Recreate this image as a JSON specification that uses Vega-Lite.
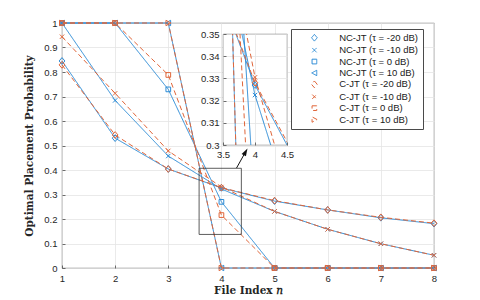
{
 "$schema": "https://vega.github.io/schema/vega-lite/v6.json",
 "background": "white",
 "padding": {"left": 24, "top": 17, "right": 4, "bottom": 4},
 "bounds": "flush",
 "align": "none",
 "spacing": -211,
 "resolve": {"scale": {"color": "independent", "shape": "independent", "strokeDash": "independent", "stroke": "independent"}},
 "config": {
  "font": "Liberation Sans",
  "view": {"stroke": "#4a4a4a", "strokeWidth": 0.8},
  "axis": {"domain": false, "grid": true, "gridColor": "#e4e4e4", "gridWidth": 0.8, "tickColor": "#4a4a4a", "tickSize": -3, "tickWidth": 0.8, "labelFont": "Liberation Sans", "labelFontSize": 9.5, "labelColor": "#262626", "labelFlush": false, "labelOverlap": false, "labelPadding": 8, "titleFont": "DejaVu Serif", "titleFontWeight": "bold", "titleFontSize": 10.5, "titleColor": "#262626"}
 },
 "datasets": {
  "d": [
   {"n":1,"p":0.845,"s":"NC-JT (τ = -20 dB)"},{"n":2,"p":0.53,"s":"NC-JT (τ = -20 dB)"},{"n":3,"p":0.404,"s":"NC-JT (τ = -20 dB)"},{"n":4,"p":0.327,"s":"NC-JT (τ = -20 dB)"},{"n":5,"p":0.273,"s":"NC-JT (τ = -20 dB)"},{"n":6,"p":0.237,"s":"NC-JT (τ = -20 dB)"},{"n":7,"p":0.205,"s":"NC-JT (τ = -20 dB)"},{"n":8,"p":0.181,"s":"NC-JT (τ = -20 dB)"},
   {"n":1,"p":1.0,"s":"NC-JT (τ = -10 dB)"},{"n":2,"p":0.684,"s":"NC-JT (τ = -10 dB)"},{"n":3,"p":0.457,"s":"NC-JT (τ = -10 dB)"},{"n":4,"p":0.3225,"s":"NC-JT (τ = -10 dB)"},{"n":5,"p":0.231,"s":"NC-JT (τ = -10 dB)"},{"n":6,"p":0.158,"s":"NC-JT (τ = -10 dB)"},{"n":7,"p":0.099,"s":"NC-JT (τ = -10 dB)"},{"n":8,"p":0.052,"s":"NC-JT (τ = -10 dB)"},
   {"n":1,"p":1.0,"s":"NC-JT (τ = 0 dB)"},{"n":2,"p":1.0,"s":"NC-JT (τ = 0 dB)"},{"n":3,"p":0.729,"s":"NC-JT (τ = 0 dB)"},{"n":4,"p":0.27,"s":"NC-JT (τ = 0 dB)"},{"n":5,"p":0,"s":"NC-JT (τ = 0 dB)"},{"n":6,"p":0,"s":"NC-JT (τ = 0 dB)"},{"n":7,"p":0,"s":"NC-JT (τ = 0 dB)"},{"n":8,"p":0,"s":"NC-JT (τ = 0 dB)"},
   {"n":1,"p":1.0,"s":"NC-JT (τ = 10 dB)"},{"n":2,"p":1.0,"s":"NC-JT (τ = 10 dB)"},{"n":3,"p":1.0,"s":"NC-JT (τ = 10 dB)"},{"n":4,"p":0,"s":"NC-JT (τ = 10 dB)"},{"n":5,"p":0,"s":"NC-JT (τ = 10 dB)"},{"n":6,"p":0,"s":"NC-JT (τ = 10 dB)"},{"n":7,"p":0,"s":"NC-JT (τ = 10 dB)"},{"n":8,"p":0,"s":"NC-JT (τ = 10 dB)"},
   {"n":1,"p":0.829,"s":"C-JT (τ = -20 dB)"},{"n":2,"p":0.543,"s":"C-JT (τ = -20 dB)"},{"n":3,"p":0.404,"s":"C-JT (τ = -20 dB)"},{"n":4,"p":0.328,"s":"C-JT (τ = -20 dB)"},{"n":5,"p":0.275,"s":"C-JT (τ = -20 dB)"},{"n":6,"p":0.237,"s":"C-JT (τ = -20 dB)"},{"n":7,"p":0.207,"s":"C-JT (τ = -20 dB)"},{"n":8,"p":0.183,"s":"C-JT (τ = -20 dB)"},
   {"n":1,"p":0.944,"s":"C-JT (τ = -10 dB)"},{"n":2,"p":0.713,"s":"C-JT (τ = -10 dB)"},{"n":3,"p":0.478,"s":"C-JT (τ = -10 dB)"},{"n":4,"p":0.3305,"s":"C-JT (τ = -10 dB)"},{"n":5,"p":0.231,"s":"C-JT (τ = -10 dB)"},{"n":6,"p":0.158,"s":"C-JT (τ = -10 dB)"},{"n":7,"p":0.099,"s":"C-JT (τ = -10 dB)"},{"n":8,"p":0.052,"s":"C-JT (τ = -10 dB)"},
   {"n":1,"p":1.0,"s":"C-JT (τ = 0 dB)"},{"n":2,"p":1.0,"s":"C-JT (τ = 0 dB)"},{"n":3,"p":0.788,"s":"C-JT (τ = 0 dB)"},{"n":4,"p":0.216,"s":"C-JT (τ = 0 dB)"},{"n":5,"p":0,"s":"C-JT (τ = 0 dB)"},{"n":6,"p":0,"s":"C-JT (τ = 0 dB)"},{"n":7,"p":0,"s":"C-JT (τ = 0 dB)"},{"n":8,"p":0,"s":"C-JT (τ = 0 dB)"},
   {"n":1,"p":1.0,"s":"C-JT (τ = 10 dB)"},{"n":2,"p":1.0,"s":"C-JT (τ = 10 dB)"},{"n":3,"p":1.0,"s":"C-JT (τ = 10 dB)"},{"n":4,"p":0,"s":"C-JT (τ = 10 dB)"},{"n":5,"p":0,"s":"C-JT (τ = 10 dB)"},{"n":6,"p":0,"s":"C-JT (τ = 10 dB)"},{"n":7,"p":0,"s":"C-JT (τ = 10 dB)"},{"n":8,"p":0,"s":"C-JT (τ = 10 dB)"}
  ],
  "box": [{"x1": 3.58, "x2": 4.375, "y1": 0.137, "y2": 0.407}],
  "arrow": [{"x1": 4.284, "y1": 0.408, "x2": 4.449, "y2": 0.472}]
 },
 "hconcat": [
  {
   "width": 372,
   "height": 245,
   "layer": [
    {
     "data": {"name": "d"},
     "mark": {"type": "line", "strokeWidth": 1},
     "encoding": {
      "x": {"field": "n", "type": "quantitative", "scale": {"domain": [1, 8], "nice": false}, "axis": {"values": [1,2,3,4,5,6,7,8], "format": "~g", "title": "File Index 𝑛", "titlePadding": 3}},
      "y": {"field": "p", "type": "quantitative", "scale": {"domain": [0, 1], "nice": false}, "axis": {"values": [0,0.1,0.2,0.3,0.4,0.5,0.6,0.7,0.8,0.9,1], "format": "~g", "title": "Optimal Placement Probability", "titlePadding": 9}},
      "color": {"field": "s", "type": "nominal", "sort": null,
       "scale": {"domain": ["NC-JT (τ = -20 dB)","NC-JT (τ = -10 dB)","NC-JT (τ = 0 dB)","NC-JT (τ = 10 dB)","C-JT (τ = -20 dB)","C-JT (τ = -10 dB)","C-JT (τ = 0 dB)","C-JT (τ = 10 dB)"],
                 "range": ["#2b8bd6","#2b8bd6","#2b8bd6","#2b8bd6","#e0663a","#e0663a","#e0663a","#e0663a"]},
       "legend": {"orient": "none", "legendX": 229, "legendY": 6, "title": null, "fillColor": "white", "strokeColor": "#4a4a4a", "padding": 4, "labelFont": "Liberation Sans", "labelFontSize": 9.5, "labelColor": "#1a1a1a", "symbolSize": 45, "symbolStrokeWidth": 1, "labelOffset": 20, "rowPadding": 0.4, "symbolOffset": 14.65,
        "encode": {"symbols": {"update": {"fill": {"value": "transparent"}, "strokeWidth": {"value": 1}}}}}},
      "strokeDash": {"field": "s", "type": "nominal", "sort": null,
       "scale": {"domain": ["NC-JT (τ = -20 dB)","NC-JT (τ = -10 dB)","NC-JT (τ = 0 dB)","NC-JT (τ = 10 dB)","C-JT (τ = -20 dB)","C-JT (τ = -10 dB)","C-JT (τ = 0 dB)","C-JT (τ = 10 dB)"],
                 "range": [[1,0],[1,0],[1,0],[1,0],[5,3],[5,3],[5,3],[5,3]]}}
     }
    },
    {
     "data": {"name": "d"},
     "mark": {"type": "point", "filled": false, "size": 45, "strokeWidth": 1, "opacity": 1},
     "encoding": {
      "x": {"field": "n", "type": "quantitative", "scale": {"domain": [1, 8], "nice": false}, "axis": {"values": [1,2,3,4,5,6,7,8], "format": "~g"}},
      "y": {"field": "p", "type": "quantitative", "scale": {"domain": [0, 1], "nice": false}, "axis": {"values": [0,0.1,0.2,0.3,0.4,0.5,0.6,0.7,0.8,0.9,1], "format": "~g"}},
      "stroke": {"field": "s", "type": "nominal", "sort": null, "legend": null,
       "scale": {"domain": ["NC-JT (τ = -20 dB)","NC-JT (τ = -10 dB)","NC-JT (τ = 0 dB)","NC-JT (τ = 10 dB)","C-JT (τ = -20 dB)","C-JT (τ = -10 dB)","C-JT (τ = 0 dB)","C-JT (τ = 10 dB)"],
                 "range": ["#2b8bd6","#2b8bd6","#2b8bd6","#2b8bd6","#e0663a","#e0663a","#e0663a","#e0663a"]}},
      "shape": {"field": "s", "type": "nominal", "sort": null, "legend": null,
       "scale": {"domain": ["NC-JT (τ = -20 dB)","NC-JT (τ = -10 dB)","NC-JT (τ = 0 dB)","NC-JT (τ = 10 dB)","C-JT (τ = -20 dB)","C-JT (τ = -10 dB)","C-JT (τ = 0 dB)","C-JT (τ = 10 dB)"],
                 "range": ["M0,-1L0.85,0L0,1L-0.85,0Z","M-0.65,-0.65L0.65,0.65M-0.65,0.65L0.65,-0.65","M-0.7,-0.7L0.7,-0.7L0.7,0.7L-0.7,0.7Z","M-0.8,0L0.7,-0.8L0.7,0.8Z","M0,-1L0.85,0L0,1L-0.85,0Z","M-0.65,-0.65L0.65,0.65M-0.65,0.65L0.65,-0.65","M-0.7,-0.7L0.7,-0.7L0.7,0.7L-0.7,0.7Z","M0.8,0L-0.7,-0.8L-0.7,0.8Z"]}}
     }
    },
    {
     "data": {"name": "box"},
     "mark": {"type": "rect", "fill": null, "stroke": "#333333", "strokeWidth": 0.8},
     "encoding": {
      "x": {"field": "x1", "type": "quantitative", "scale": {"domain": [1, 8], "nice": false}, "axis": {"values": [1,2,3,4,5,6,7,8], "format": "~g"}},
      "x2": {"field": "x2"},
      "y": {"field": "y1", "type": "quantitative", "scale": {"domain": [0, 1], "nice": false}, "axis": {"values": [0,0.1,0.2,0.3,0.4,0.5,0.6,0.7,0.8,0.9,1], "format": "~g"}},
      "y2": {"field": "y2"}
     }
    },
    {
     "data": {"name": "arrow"},
     "mark": {"type": "rule", "stroke": "#111111", "strokeWidth": 1},
     "encoding": {
      "x": {"field": "x1", "type": "quantitative", "scale": {"domain": [1, 8], "nice": false}, "axis": {"values": [1,2,3,4,5,6,7,8], "format": "~g"}},
      "x2": {"field": "x2"},
      "y": {"field": "y1", "type": "quantitative", "scale": {"domain": [0, 1], "nice": false}, "axis": {"values": [0,0.1,0.2,0.3,0.4,0.5,0.6,0.7,0.8,0.9,1], "format": "~g"}},
      "y2": {"field": "y2"}
     }
    },
    {
     "data": {"name": "arrow"},
     "mark": {"type": "point", "shape": "M0,-1L0.55,0.7L-0.55,0.7Z", "filled": true, "fill": "#111111", "stroke": null, "size": 80, "angle": 29, "opacity": 1},
     "encoding": {
      "x": {"field": "x2", "type": "quantitative", "scale": {"domain": [1, 8], "nice": false}, "axis": {"values": [1,2,3,4,5,6,7,8], "format": "~g"}},
      "y": {"field": "y2", "type": "quantitative", "scale": {"domain": [0, 1], "nice": false}, "axis": {"values": [0,0.1,0.2,0.3,0.4,0.5,0.6,0.7,0.8,0.9,1], "format": "~g"}}
     }
    }
   ]
  },
  {
   "bounds": "flush",
   "spacing": 0,
   "vconcat": [
    {
     "width": 64,
     "height": 11,
     "view": {"stroke": null, "fill": null},
     "data": {"values": [{"a": 0}]},
     "mark": {"type": "point", "opacity": 0},
     "encoding": {}
    },
    {
     "width": 64,
     "height": 111,
     "view": {"fill": "white", "stroke": "#4a4a4a", "strokeWidth": 0.8},
     "layer": [
      {
       "data": {"name": "d"},
       "mark": {"type": "line", "strokeWidth": 1, "clip": true},
       "encoding": {
        "x": {"field": "n", "type": "quantitative", "scale": {"domain": [3.5, 4.5], "nice": false}, "axis": {"values": [3.5, 4, 4.5], "format": "~g", "title": null, "labelPadding": 7}},
        "y": {"field": "p", "type": "quantitative", "scale": {"domain": [0.3, 0.35], "nice": false, "zero": false}, "axis": {"values": [0.3,0.31,0.32,0.33,0.34,0.35], "format": "~g", "title": null, "labelPadding": 7}},
        "color": {"field": "s", "type": "nominal", "sort": null, "legend": null,
         "scale": {"domain": ["NC-JT (τ = -20 dB)","NC-JT (τ = -10 dB)","NC-JT (τ = 0 dB)","NC-JT (τ = 10 dB)","C-JT (τ = -20 dB)","C-JT (τ = -10 dB)","C-JT (τ = 0 dB)","C-JT (τ = 10 dB)"],
                   "range": ["#2b8bd6","#2b8bd6","#2b8bd6","#2b8bd6","#e0663a","#e0663a","#e0663a","#e0663a"]}},
        "strokeDash": {"field": "s", "type": "nominal", "sort": null, "legend": null,
         "scale": {"domain": ["NC-JT (τ = -20 dB)","NC-JT (τ = -10 dB)","NC-JT (τ = 0 dB)","NC-JT (τ = 10 dB)","C-JT (τ = -20 dB)","C-JT (τ = -10 dB)","C-JT (τ = 0 dB)","C-JT (τ = 10 dB)"],
                   "range": [[1,0],[1,0],[1,0],[1,0],[5,3],[5,3],[5,3],[5,3]]}}
       }
      },
      {
       "data": {"name": "d"},
       "mark": {"type": "point", "filled": false, "size": 45, "strokeWidth": 1, "opacity": 1, "clip": true},
       "encoding": {
        "x": {"field": "n", "type": "quantitative", "scale": {"domain": [3.5, 4.5], "nice": false}, "axis": {"values": [3.5, 4, 4.5], "format": "~g", "title": null, "labelPadding": 7}},
        "y": {"field": "p", "type": "quantitative", "scale": {"domain": [0.3, 0.35], "nice": false, "zero": false}, "axis": {"values": [0.3,0.31,0.32,0.33,0.34,0.35], "format": "~g", "title": null, "labelPadding": 7}},
        "color": {"field": "s", "type": "nominal", "sort": null, "legend": null},
        "shape": {"field": "s", "type": "nominal", "sort": null, "legend": null,
         "scale": {"domain": ["NC-JT (τ = -20 dB)","NC-JT (τ = -10 dB)","NC-JT (τ = 0 dB)","NC-JT (τ = 10 dB)","C-JT (τ = -20 dB)","C-JT (τ = -10 dB)","C-JT (τ = 0 dB)","C-JT (τ = 10 dB)"],
                   "range": ["M0,-1L0.85,0L0,1L-0.85,0Z","M-0.65,-0.65L0.65,0.65M-0.65,0.65L0.65,-0.65","M-0.7,-0.7L0.7,-0.7L0.7,0.7L-0.7,0.7Z","M-0.8,0L0.7,-0.8L0.7,0.8Z","M0,-1L0.85,0L0,1L-0.85,0Z","M-0.65,-0.65L0.65,0.65M-0.65,0.65L0.65,-0.65","M-0.7,-0.7L0.7,-0.7L0.7,0.7L-0.7,0.7Z","M0.8,0L-0.7,-0.8L-0.7,0.8Z"]}}
       }
      }
     ]
    }
   ]
  }
 ]
}
